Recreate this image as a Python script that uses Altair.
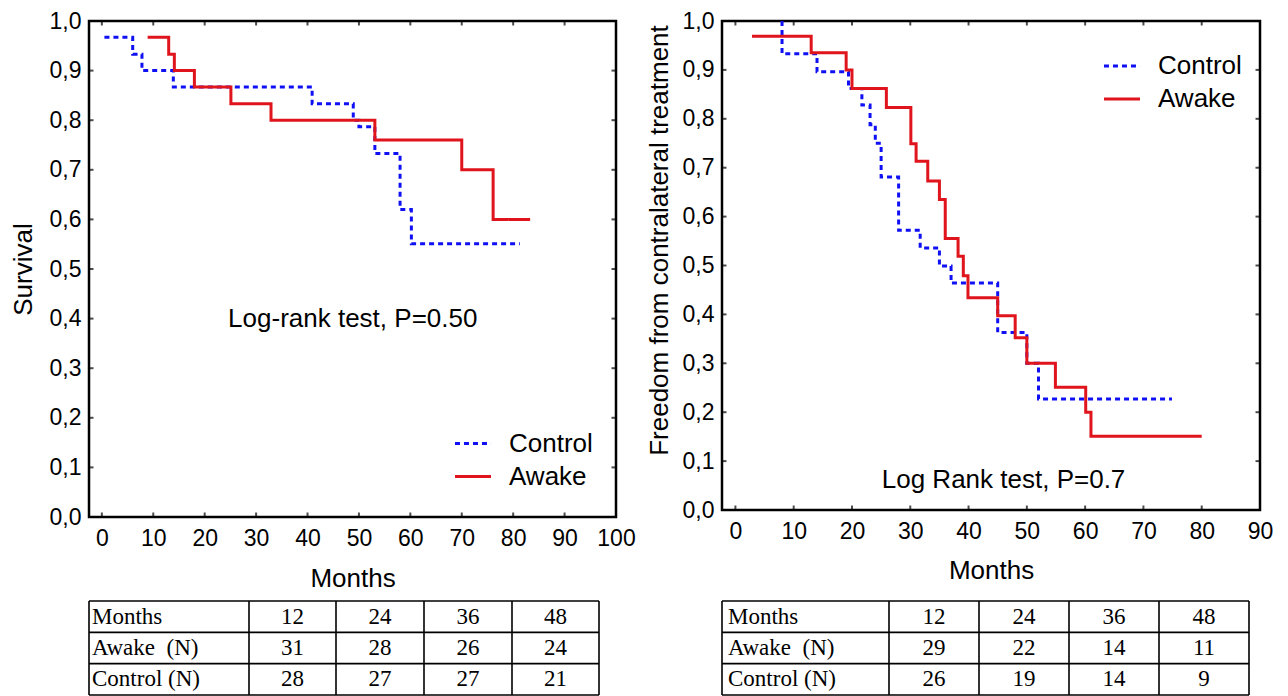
import altair as alt
import pandas as pd

# ---------------- data ----------------
# Left panel: overall survival
L_CTRL_MONTHS = [0.5, 6.0, 7.8, 13.9, 40.9, 48.9, 50.0, 53.1, 58.0, 60.2, 81.3]
L_CTRL_SURV = [0.967, 0.933, 0.900, 0.867, 0.833, 0.800, 0.787, 0.733, 0.620, 0.551, 0.551]
L_AWAKE_MONTHS = [8.9, 13.0, 14.1, 18.0, 25.1, 32.9, 53.1, 70.0, 76.1, 83.3]
L_AWAKE_SURV = [0.967, 0.933, 0.900, 0.867, 0.833, 0.800, 0.760, 0.700, 0.600, 0.600]

# Right panel: freedom from contralateral treatment
R_CTRL_MONTHS = [8.0, 8.0, 14.0, 19.4, 21.7, 23.1, 24.0, 25.0, 28.0, 31.7, 35.0, 37.0,
                 45.0, 50.0, 52.0, 74.9]
R_CTRL_FREE = [1.000, 0.933, 0.896, 0.862, 0.828, 0.788, 0.750, 0.681, 0.572, 0.536, 0.499,
               0.464, 0.363, 0.300, 0.227, 0.227]
R_AWAKE_MONTHS = [2.85, 13.0, 19.0, 20.0, 25.9, 30.1, 31.0, 33.0, 35.0, 36.0, 38.2, 39.1,
                  39.9, 45.0, 48.0, 50.0, 54.9, 60.1, 61.0, 80.0]
R_AWAKE_FREE = [0.969, 0.935, 0.900, 0.862, 0.823, 0.749, 0.713, 0.673, 0.635, 0.555, 0.519,
                0.479, 0.434, 0.397, 0.352, 0.300, 0.251, 0.200, 0.151, 0.151]

SERIES = ["Control", "Awake"]
L_NOTE = "Log-rank test, P=0.50"
R_NOTE = "Log Rank test, P=0.7"
L_YTITLE = "Survival"
R_YTITLE = "Freedom from contralateral treatment"
XTITLE = "Months"
L_XTICKS = [0, 10, 20, 30, 40, 50, 60, 70, 80, 90, 100]
R_XTICKS = [0, 10, 20, 30, 40, 50, 60, 70, 80, 90]
YTICKS = [0.0, 0.1, 0.2, 0.3, 0.4, 0.5, 0.6, 0.7, 0.8, 0.9, 1.0]

# risk tables
TABLE_HEAD = ["Months", "Awake\u00a0 (N)", "Control (N)"]
TABLE_MONTHS = [12, 24, 36, 48]
L_AWAKE_N = [31, 28, 26, 24]
L_CTRL_N = [28, 27, 27, 21]
R_AWAKE_N = [29, 22, 14, 11]
R_CTRL_N = [26, 19, 14, 9]

# ---------------- styling / layout ----------------
FONT = "Liberation Sans"
SERIF = "Liberation Serif"
COLORS = ["#1010f4", "#e0141c"]
DASHES = [[5, 4], [1, 0]]


def curves(cm, cs, am, avals):
    rows = []
    for i, (m, v) in enumerate(zip(cm, cs)):
        rows.append({"series": "Control", "month": m, "value": v, "idx": i})
    for i, (m, v) in enumerate(zip(am, avals)):
        rows.append({"series": "Awake", "month": m, "value": v, "idx": i})
    return pd.DataFrame(rows)


def panel(df, xdom, xticks, width, height, ytitle, ytitle_size, ytitle_pad, ytitle_y,
          note, note_x, note_y, leg_x, leg_y, leg_row, xlabel_pad, xtitle_pad):
    xs = alt.Scale(domain=xdom, nice=False, zero=False)
    ys = alt.Scale(domain=[0, 1], nice=False, zero=False)
    yaxis_kw = dict(values=YTICKS, title=ytitle, ticks=False, domain=False, grid=False,
                    labelExpr="replace(format(datum.value, '.1f'), '.', ',')",
                    labelFontSize=23, labelPadding=8, titleFontSize=ytitle_size,
                    titlePadding=ytitle_pad, titleFontWeight="normal", labelFlush=False)
    if ytitle_y is not None:
        yaxis_kw["titleY"] = ytitle_y
    xaxis = alt.Axis(values=xticks, title=XTITLE, ticks=False, domain=False, grid=False,
                     labelFontSize=23, labelPadding=xlabel_pad, labelFlush=False,
                     labelOverlap=False, titleFontSize=26, titlePadding=xtitle_pad,
                     titleFontWeight="normal")
    yaxis = alt.Axis(**yaxis_kw)
    x = alt.X("month:Q", scale=xs, axis=xaxis)
    y = alt.Y("value:Q", scale=ys, axis=yaxis)
    legend = alt.Legend(title=None, orient="none", legendX=leg_x, legendY=leg_y,
                        symbolType="stroke", symbolSize=1300, symbolStrokeWidth=3,
                        labelFontSize=26, labelFont=FONT, labelOffset=16,
                        rowPadding=leg_row, labelColor="black")
    lines = alt.Chart(df).mark_line(interpolate="step-after", strokeWidth=3, clip=True).encode(
        x=x, y=y,
        color=alt.Color("series:N", scale=alt.Scale(domain=SERIES, range=COLORS), legend=legend),
        strokeDash=alt.StrokeDash("series:N", scale=alt.Scale(domain=SERIES, range=DASHES),
                                  legend=legend),
        order=alt.Order("idx:Q"),
    )
    xt = pd.DataFrame([{"month": t, "value": e} for t in xticks for e in (0, 1)])
    yt = pd.DataFrame([{"month": e, "value": t} for t in YTICKS for e in xdom])
    xtick = alt.Chart(xt).mark_tick(orient="vertical", size=9, thickness=2, color="black",
                                    clip=True).encode(x=x, y=y)
    ytick = alt.Chart(yt).mark_tick(orient="horizontal", size=9, thickness=2, color="black",
                                    clip=True).encode(x=x, y=y)
    nd = pd.DataFrame({"month": [note_x], "value": [note_y], "label": [note]})
    text = alt.Chart(nd).mark_text(fontSize=26, font=FONT, align="center",
                                   baseline="middle", color="black").encode(
        x=x, y=y, text="label:N")
    return alt.layer(lines, xtick, ytick, text).properties(
        width=width, height=height,
        view=alt.ViewBackground(stroke="black", strokeWidth=2.5))


def table(awake, ctrl, edges, height, pad):
    W = edges[-1]
    rows = [TABLE_MONTHS, awake, ctrl]
    cells = []
    for r, vals in enumerate(rows):
        cells.append({"x": edges[0] + pad, "row": r + 0.5, "t": TABLE_HEAD[r], "a": "left"})
        for c, v in enumerate(vals):
            cells.append({"x": (edges[c + 1] + edges[c + 2]) / 2, "row": r + 0.5,
                          "t": str(v), "a": "center"})
    cdf = pd.DataFrame(cells)
    xs = alt.Scale(domain=[0, W], nice=False, zero=False)
    ys = alt.Scale(domain=[0, 3], nice=False, zero=False, reverse=True)
    tx = alt.X("x:Q", scale=xs, axis=None)
    hl = pd.DataFrame({"x": [0] * 4, "x2": [W] * 4, "y": [0, 1, 2, 3], "y2": [0, 1, 2, 3]})
    vl = pd.DataFrame({"x": edges, "x2": edges, "y": [0] * len(edges), "y2": [3] * len(edges)})
    rules = alt.Chart(pd.concat([hl, vl])).mark_rule(color="black", strokeWidth=1.6).encode(
        x=tx, x2="x2:Q", y=alt.Y("y:Q", scale=ys, axis=None), y2="y2:Q")
    left = alt.Chart(cdf[cdf.a == "left"]).mark_text(
        font=SERIF, fontSize=23, align="left", baseline="middle", color="black").encode(
        x=tx, y=alt.Y("row:Q", scale=ys, axis=None), text="t:N")
    center = alt.Chart(cdf[cdf.a == "center"]).mark_text(
        font=SERIF, fontSize=23, align="center", baseline="middle", color="black").encode(
        x=tx, y=alt.Y("row:Q", scale=ys, axis=None), text="t:N")
    return alt.layer(rules, left, center).properties(
        width=W, height=height, view=alt.ViewBackground(strokeOpacity=0))


left_plot = panel(curves(L_CTRL_MONTHS, L_CTRL_SURV, L_AWAKE_MONTHS, L_AWAKE_SURV),
                  [-2.5, 100], L_XTICKS, 527, 496, L_YTITLE, 26, 13, None,
                  L_NOTE, 48.8, 0.40, 364, 402.5, 0, 10, 15)
right_plot = panel(curves(R_CTRL_MONTHS, R_CTRL_FREE, R_AWAKE_MONTHS, R_AWAKE_FREE),
                   [-2.3, 90], R_XTICKS, 538, 489, R_YTITLE, 26, 10, 219,
                   R_NOTE, 46.0, 0.061, 380, 25, 0, 10, 14)

left_table = table(L_AWAKE_N, L_CTRL_N, [0, 160, 247, 335, 423, 510], 94, 3)
right_table = table(R_AWAKE_N, R_CTRL_N, [0, 167, 257, 347, 437, 527], 94, 6)

left_col = alt.vconcat(left_plot, left_table, spacing=7).resolve_scale(
    color="independent", strokeDash="independent")
right_col = alt.vconcat(right_plot, right_table, spacing=15).resolve_scale(
    color="independent", strokeDash="independent")

chart = alt.hconcat(left_col, right_col, spacing=7).resolve_scale(
    color="independent", strokeDash="independent"
).properties(
    padding={"left": 0, "top": 0, "right": 0, "bottom": 0}
).configure(
    font=FONT
).configure_axis(
    labelFont=FONT, titleFont=FONT, labelColor="black", titleColor="black"
).configure_view(
    strokeWidth=0
)

chart.save("out.html", embed_options={"renderer": "svg", "actions": False})
